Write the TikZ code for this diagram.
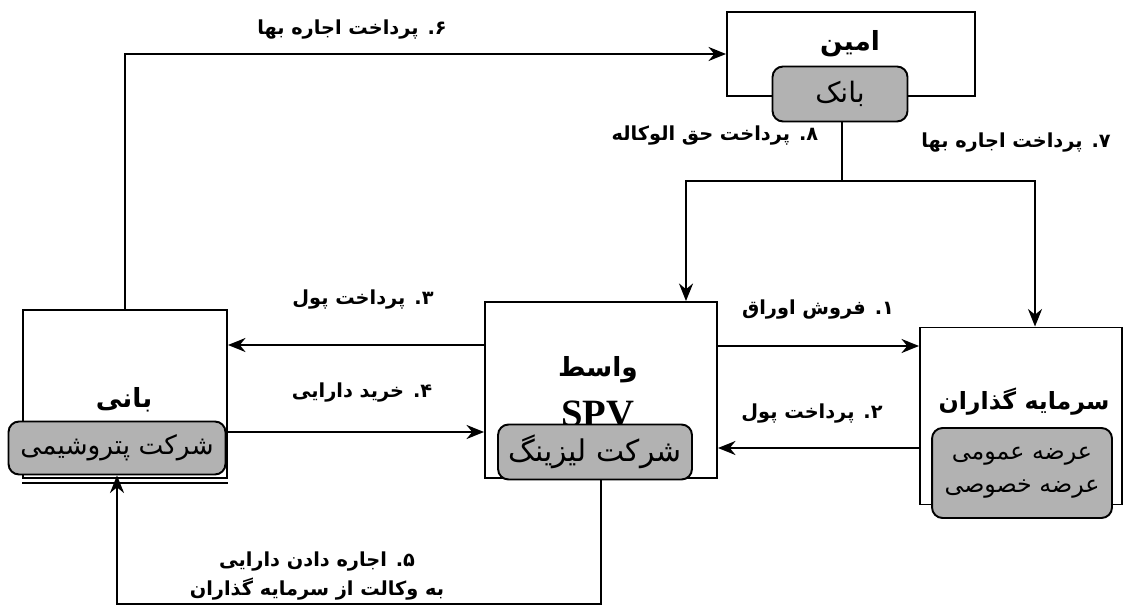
\documentclass[tikz,border=0pt]{standalone}
\usepackage{fontspec}
\usetikzlibrary{arrows.meta}
\newfontfamily\fa[Script=Arabic]{DejaVu Sans}
\newfontfamily\lat{Liberation Serif}
\TeXXeTstate=1
\newcommand{\rtl}[1]{\beginR #1\endR}
\tikzset{
	box/.style={draw,line width=1.1pt,inner sep=0pt},
	firm/.style={draw,line width=1.1pt,rounded corners=6pt,fill=black!30,inner sep=0pt,
		font=\fa\fontsize{15}{21}\selectfont,align=center},
	title/.style={font=\fa\bfseries\fontsize{15}{20}\selectfont},
	lbl/.style={font=\fa\bfseries\fontsize{11}{16}\selectfont,align=center},
	link/.style={line width=1.1pt}
}
\begin{document}
\begin{tikzpicture}[>={Stealth[length=10pt,width=8pt]},x=0.02cm,y=-0.02cm]
	\useasboundingbox (0,0) rectangle (1124,607);
	% boxes
	\node[box,minimum width=4.96cm,minimum height=1.68cm] (amin) at (851,54) {};
	\node[title] (amintxt) at (850,44) {\rtl{امین}};
	\node[firm,minimum width=2.7cm,minimum height=1.1cm,font=\fa\fontsize{16}{20}\selectfont] (bank) at (840,94) {\rtl{بانک}};
	\node[box,minimum width=4.08cm,minimum height=3.36cm] (bani) at (125,394) {};
	\node[title] (banitxt) at (124,400) {\rtl{بانی}};
	\node[firm,minimum width=4.34cm,minimum height=1.06cm] (banifirm) at (117,448) {\rtl{شرکت پتروشیمی}};
	\node[box,minimum width=4.64cm,minimum height=3.52cm] (spv) at (601,390) {};
	\node[title] (spvtxt) at (598,370) {\rtl{واسط}};
	\node[font=\lat\bfseries\fontsize{22}{22}\selectfont] (spvname) at (598,414) {SPV};
	\node[firm,minimum width=3.88cm,minimum height=1.1cm,font=\fa\fontsize{17}{20}\selectfont] (spvfirm) at (595,452) {\rtl{شرکت لیزینگ}};
	\node[box,minimum width=4.04cm,minimum height=3.54cm] (inv) at (1021,416) {};
	\node[title,font=\fa\bfseries\fontsize{13.5}{20}\selectfont] (invtxt) at (1024,402) {\rtl{سرمایه گذاران}};
	\node[firm,minimum width=3.6cm,minimum height=1.8cm,font=\fa\fontsize{13.5}{19}\selectfont] (invfirm) at (1022,473) {\rtl{عرضه عمومی}\\\rtl{عرضه خصوصی}};
	%	\draw[gray] (bani.south west) -- (bani.south east);
	\draw[link] ([yshift=-0.08cm]bani.south west) -- ([yshift=-0.08cm]bani.south east);
	% helper points
	\coordinate (p1) at (0,346);
	\coordinate (p2) at (0,448);
	\coordinate (p3) at (0,345);
	\coordinate (p4) at (0,432);
	\coordinate (b5) at (0,604);
	\coordinate (j) at (842,181);
	\coordinate (d8) at (686,0);
	\coordinate (d7) at (1035,0);
	% connectors
	\draw[link,->] (spv.east |- p1) -- (inv.west |- p1);
	\draw[link,->] (inv.west |- p2) -- (spv.east |- p2);
	\draw[link,->] (spv.west |- p3) -- (bani.east |- p3);
	\draw[link,->] (banifirm.east |- p4) -- (spv.west |- p4);
	\draw[link,->] (spvfirm.south -| spv.south) -- (spv.south |- b5) -| (banifirm.south);
	\draw[link,->] (bani.north) |- (amin.west);
	\draw[link] (bank.south -| j) -- (j);
	\draw[link,->] (j) -| (d7 |- inv.north);
	\draw[link,->] (j) -| (d8 |- spv.north);
	% labels
	\node[lbl] (l1) at (818,310) {\rtl{۱. فروش اوراق}};
	\node[lbl] (l2) at (812,414) {\rtl{۲. پرداخت پول}};
	\node[lbl] (l3) at (363,300) {\rtl{۳. پرداخت پول}};
	\node[lbl] (l4) at (362,393) {\rtl{۴. خرید دارایی}};
	\node[lbl] (l5) at (317,576) {\rtl{۵. اجاره دادن دارایی}\\\rtl{به وکالت از سرمایه گذاران}};
	\node[lbl] (l6) at (352,30) {\rtl{۶. پرداخت اجاره بها}};
	\node[lbl] (l7) at (1016,143) {\rtl{۷. پرداخت اجاره بها}};
	\node[lbl] (l8) at (715,136) {\rtl{۸. پرداخت حق الوکاله}};
\end{tikzpicture}
\end{document}
